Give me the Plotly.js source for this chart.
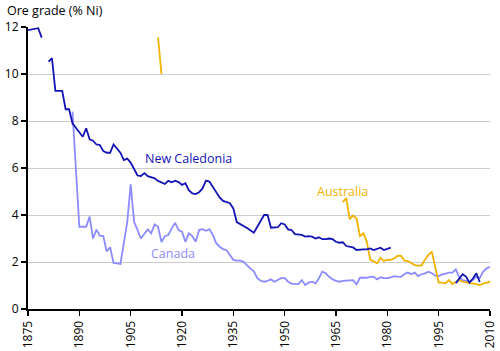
<!DOCTYPE html>
<html>
<head>
<meta charset="utf-8">
<script src="https://cdn.plot.ly/plotly-3.0.1.min.js"></script>
<style>html,body{margin:0;padding:0;background:#fff;}#chart{width:500px;height:351px;}</style>
</head>
<body>
<div id="chart"></div>
<script>
// New Caledonia (null marks a gap in the record)
var ncYears = [1875,1876,1877,1878,1879,1880,1881,1882,1883,1884,1885,1886,1887,1888,1889,1890,1891,1892,1893,1894,1895,1896,1897,1898,1899,1900,1901,1902,1903,1904,1905,1906,1907,1908,1909,1910,1911,1912,1913,1914,1915,1916,1917,1918,1919,1920,1921,1922,1923,1924,1925,1926,1927,1928,1929,1930,1931,1932,1933,1934,1935,1936,1939,1941,1944,1945,1946,1947,1948,1949,1950,1951,1952,1953,1954,1955,1956,1957,1958,1959,1960,1961,1962,1963,1964,1965,1966,1967,1968,1969,1970,1971,1972,1973,1974,1975,1976,1977,1978,1979,1980,1981,1990,2000,2001,2002,2003,2004,2005,2006,2007];
var ncGrade = [11.87,11.9,11.95,11.95,11.55,null,10.53,10.67,9.28,9.28,9.28,8.5,8.5,7.9,7.72,7.55,7.33,7.69,7.22,7.16,7.0,6.98,6.72,6.65,6.65,7.0,6.84,6.65,6.34,6.4,6.23,5.95,5.68,5.66,5.78,5.65,5.6,5.56,5.45,5.38,5.32,5.45,5.39,5.46,5.4,5.28,5.35,5.06,4.92,4.89,4.97,5.13,5.46,5.42,5.2,4.95,4.75,4.6,4.55,4.5,4.28,3.7,3.45,3.25,4.0,4.0,3.46,3.46,3.48,3.65,3.6,3.39,3.36,3.19,3.17,3.15,3.08,3.1,3.08,3.0,3.05,2.97,2.97,3.0,2.97,2.86,2.82,2.84,2.68,2.65,2.62,2.51,2.54,2.54,2.54,2.58,2.51,2.55,2.61,2.51,2.57,2.61,null,1.1,1.3,1.48,1.38,1.12,1.3,1.52,1.15];

// Canada
var caYears = [1888,1890,1891,1892,1893,1894,1895,1896,1897,1898,1899,1900,1901,1902,1903,1904,1905,1906,1907,1908,1909,1910,1911,1912,1913,1914,1915,1916,1917,1918,1919,1920,1921,1922,1923,1924,1925,1926,1927,1928,1929,1930,1931,1932,1933,1934,1935,1936,1937,1938,1939,1940,1941,1942,1943,1944,1945,1946,1947,1948,1949,1950,1951,1952,1953,1954,1955,1956,1957,1958,1959,1960,1961,1962,1963,1964,1965,1966,1967,1968,1969,1970,1971,1972,1973,1974,1975,1976,1977,1978,1979,1980,1981,1982,1983,1984,1985,1986,1987,1988,1989,1990,1991,1992,1993,1994,1995,1996,1997,1998,1999,2000,2001,2002,2003,2004,2005,2006,2007,2008,2009,2010];
var caGrade = [8.4,3.5,3.5,3.5,3.93,3.0,3.38,3.12,3.1,2.45,2.63,1.96,1.94,1.92,2.8,3.7,5.3,3.71,3.36,3.0,3.2,3.39,3.22,3.6,3.5,2.85,3.1,3.15,3.43,3.67,3.36,3.29,2.86,3.22,3.1,2.86,3.36,3.4,3.33,3.4,3.15,2.8,2.65,2.55,2.5,2.3,2.09,2.06,2.06,2.01,1.85,1.72,1.6,1.31,1.2,1.16,1.2,1.26,1.16,1.23,1.31,1.31,1.16,1.08,1.06,1.06,1.23,1.02,1.12,1.16,1.09,1.31,1.59,1.52,1.37,1.26,1.2,1.16,1.2,1.2,1.2,1.23,1.05,1.33,1.33,1.33,1.37,1.37,1.26,1.35,1.31,1.31,1.35,1.4,1.38,1.37,1.49,1.55,1.49,1.55,1.4,1.48,1.52,1.59,1.52,1.42,1.4,1.47,1.5,1.55,1.55,1.69,1.35,1.23,1.2,1.16,1.23,1.37,1.31,1.59,1.72,1.8];

// Australia
var auYears = [1913,1914,1940,1967,1968,1969,1970,1971,1972,1973,1974,1975,1976,1977,1978,1979,1980,1981,1982,1983,1984,1985,1986,1987,1988,1989,1990,1991,1992,1993,1995,1996,1997,1998,1999,2000,2001,2002,2003,2004,2005,2006,2007,2008,2009,2010];
var auGrade = [11.56,10.0,null,4.55,4.72,3.82,3.98,3.85,3.1,3.22,2.86,2.1,2.02,1.94,2.18,2.04,2.1,2.09,2.15,2.27,2.26,2.06,2.04,1.96,1.87,1.85,1.85,2.1,2.3,2.44,1.12,1.12,1.09,1.23,1.06,1.15,1.23,1.16,1.12,1.1,1.09,1.06,1.02,1.08,1.12,1.16];

var seriesNames = ["New Caledonia", "Canada", "Australia"];
var xTicks = [1875,1890,1905,1920,1935,1950,1965,1980,1995,2010];
var yTicks = [0,2,4,6,8,10,12];

var cNC = "#1414b4", cCA = "#8c8cff", cAU = "#f2b300";
var FONT = "Open Sans, Noto Sans, DejaVu Sans, sans-serif";

var traces = [
  {x: caYears, y: caGrade, type: "scatter", mode: "lines", name: seriesNames[1], line: {color: cCA, width: 1.8}},
  {x: auYears, y: auGrade, type: "scatter", mode: "lines", name: seriesNames[2], line: {color: cAU, width: 1.8}},
  {x: ncYears, y: ncGrade, type: "scatter", mode: "lines", name: seriesNames[0], line: {color: cNC, width: 1.8}}
];

var layout = {
  width: 500, height: 351,
  margin: {l: 28, r: 10, t: 27, b: 42, pad: 0},
  paper_bgcolor: "#fff", plot_bgcolor: "#fff",
  showlegend: false,
  font: {family: FONT, size: 12, color: "#000"},
  xaxis: {
    range: [1875, 2010], tickvals: xTicks, ticktext: xTicks.map(String),
    tickangle: -90, ticks: "outside", ticklen: 5, tickwidth: 1.5, tickcolor: "#000",
    showline: true, linecolor: "#000", linewidth: 2, showgrid: false, zeroline: false,
    tickfont: {family: FONT, size: 12, color: "#000"}
  },
  yaxis: {
    range: [0, 12], tickvals: yTicks, ticks: "outside", ticklen: 5, tickwidth: 1.5, tickcolor: "#000",
    showline: true, linecolor: "#000", linewidth: 2, showgrid: true, gridcolor: "#cccccc", gridwidth: 1,
    zeroline: false, tickfont: {family: FONT, size: 12, color: "#000"}
  },
  annotations: [
    {xref: "paper", yref: "paper", x: 0, y: 1, xanchor: "left", yanchor: "middle", xshift: -23, yshift: 17,
     text: "Ore grade (% Ni)", showarrow: false, font: {family: FONT, size: 12.5, color: "#000"}},
    {xref: "x", yref: "y", x: 1922, y: 6.4, text: seriesNames[0], showarrow: false, font: {family: FONT, size: 12.5, color: cNC}},
    {xref: "x", yref: "y", x: 1917.4, y: 2.38, text: seriesNames[1], showarrow: false, font: {family: FONT, size: 12.5, color: cCA}},
    {xref: "x", yref: "y", x: 1967, y: 5.02, text: seriesNames[2], showarrow: false, font: {family: FONT, size: 12.5, color: cAU}}
  ]
};

Plotly.newPlot("chart", traces, layout, {displayModeBar: false, staticPlot: true});
</script>
</body>
</html>
